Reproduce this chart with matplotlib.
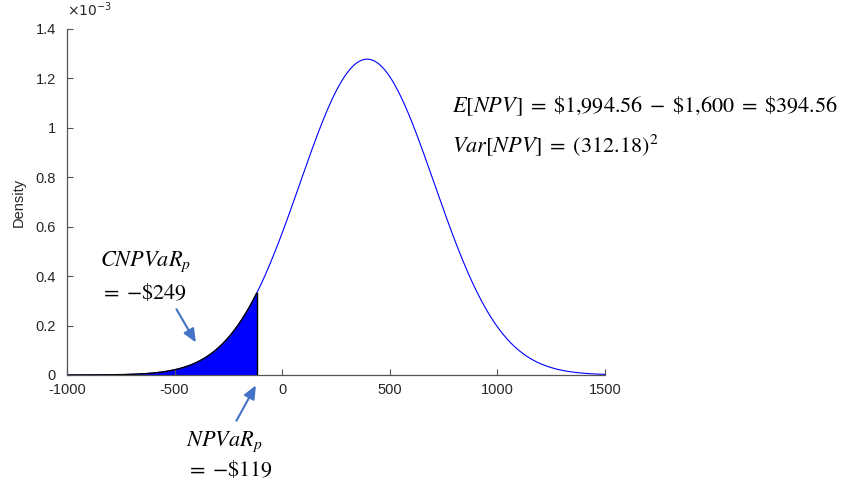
import numpy as np
import matplotlib
matplotlib.use("Agg")
import matplotlib.pyplot as plt

# Distribution parameters
npv_mean = 394.56
npv_sd = 312.18
npvar_cut = -119
x_range = [-1000, 1500]

x_ticks = [-1000, -500, 0, 500, 1000, 1500]
x_ticklabels = ["-1000", "-500", "0", "500", "1000", "1500"]
y_ticks = [0, 0.2e-3, 0.4e-3, 0.6e-3, 0.8e-3, 1.0e-3, 1.2e-3, 1.4e-3]
y_ticklabels = ["0", "0.2", "0.4", "0.6", "0.8", "1", "1.2", "1.4"]

plt.rcParams['mathtext.fontset'] = 'stix'
plt.rcParams['font.family'] = ['Liberation Sans', 'DejaVu Sans']

x = np.linspace(x_range[0], x_range[1], 1001)
pdf = np.exp(-0.5 * ((x - npv_mean) / npv_sd) ** 2) / (npv_sd * np.sqrt(2 * np.pi))

fig = plt.figure(figsize=(8.54, 4.84), dpi=100)
ax = fig.add_axes([67/854, 1 - 375/484, (605-67)/854, (375-29)/484])

ax.plot(x, pdf, color='#0000FF', lw=0.8)
mask = x <= npvar_cut
xf = np.append(x[mask], npvar_cut)
pf = np.exp(-0.5 * ((xf - npv_mean) / npv_sd) ** 2) / (npv_sd * np.sqrt(2 * np.pi))
ax.fill_between(xf, 0, pf, facecolor='#0000FF', edgecolor='#0000FF', lw=0.5)
ax.plot(xf, pf, color='black', lw=1.0)
ax.plot([npvar_cut, npvar_cut], [0, pf[-1]], color='black', lw=1.0)

ax.set_xlim(x_range)
ax.set_ylim(0, 1.4e-3)
ax.set_xticks(x_ticks)
ax.set_xticklabels(x_ticklabels)
ax.set_yticks(y_ticks)
ax.set_yticklabels(y_ticklabels)
for s in ['top', 'right']:
    ax.spines[s].set_visible(False)
for s in ['left', 'bottom']:
    ax.spines[s].set_color('#555555')
    ax.spines[s].set_linewidth(0.9)
ax.tick_params(direction='in', length=4, width=0.8, color='#555555',
               labelcolor='#262626', labelsize=10.5)
ax.tick_params(axis='y', pad=8)
ax.tick_params(axis='x', pad=6)
ax.set_ylabel('Density', fontsize=10.5, color='#262626', labelpad=7)

ax.text(-1000, 1.44e-3, r'$\times 10^{-3}$', fontsize=10, color='#262626',
        ha='left', va='bottom', family='DejaVu Sans',
        math_fontfamily='dejavusans')

arrow_c = '#4472C4'
ax.annotate('', xy=(-395, 0.122e-3), xytext=(-498, 0.276e-3),
            arrowprops=dict(arrowstyle='-|>,head_length=0.8,head_width=0.35',
                            color=arrow_c, lw=1.5), annotation_clip=False)
ax.annotate('', xy=(-116, -0.032e-3), xytext=(-219, -0.195e-3),
            arrowprops=dict(arrowstyle='-|>,head_length=0.8,head_width=0.35',
                            color=arrow_c, lw=1.5), annotation_clip=False)

fs = 16
ax.text(-847, 0.459e-3, r'$CNPVaR_p$', fontsize=fs, va='center', ha='left')
ax.text(-847, 0.333e-3, r'$=\;{-}\$249$', fontsize=fs, va='center', ha='left')
ax.text(-447, -0.272e-3, r'$NPVaR_p$', fontsize=fs, va='center', ha='left',
        clip_on=False)
ax.text(-447, -0.386e-3, r'$=\;{-}\$119$', fontsize=fs, va='center', ha='left',
        clip_on=False)
ax.text(791, 1.088e-3,
        r'$E[NPV]\;=\;\$1{,}994.56\;-\;\$1{,}600\;=\;\$394.56$',
        fontsize=fs, va='center', ha='left', clip_on=False)
ax.text(791, 0.929e-3, r'$Var[NPV]\;=\;(312.18)^2$',
        fontsize=fs, va='center', ha='left', clip_on=False)

fig.savefig('out.png', dpi=100)
